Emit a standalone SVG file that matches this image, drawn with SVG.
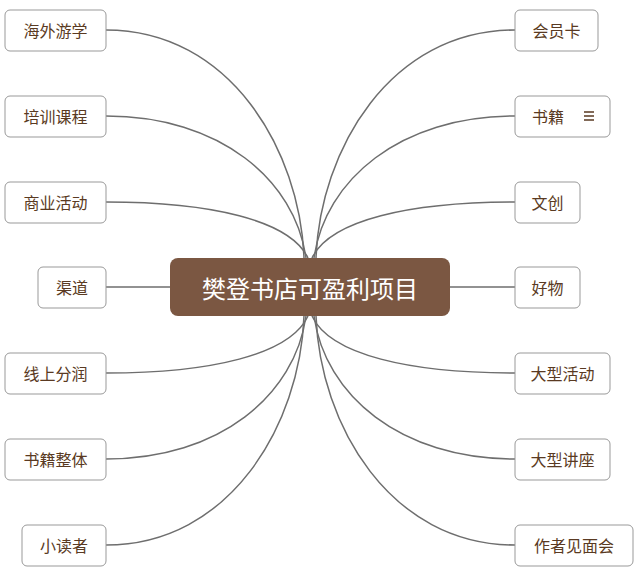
<svg xmlns="http://www.w3.org/2000/svg" width="640" height="575" viewBox="0 0 640 575">
<style>
.n rect{fill:#fff;stroke:#999;stroke-width:1}
.n text{font-family:"Noto Sans CJK SC",sans-serif;font-size:16px;fill:#5a3a22;text-anchor:middle;dominant-baseline:central}
.c path{fill:none;stroke:#6e6e6e;stroke-width:1.5}
</style>
<rect width="640" height="575" fill="#fff"/>
<g class="c">
<path d="M106,30 C230,30 300,150 304,258"/>
<path d="M106,116 C220,116 295,180 306,258"/>
<path d="M106,202 C210,202 290,220 308,258"/>
<path d="M106,287 L170,287"/>
<path d="M106,373 C210,373 290,355 308,316"/>
<path d="M106,459 C220,459 295,395 306,316"/>
<path d="M106,545 C230,545 300,425 304,316"/>
<path d="M515,30 C390,30 320,150 316,258"/>
<path d="M515,116 C400,116 325,180 314,258"/>
<path d="M515,202 C410,202 330,220 312,258"/>
<path d="M450,287 L515,287"/>
<path d="M515,373 C410,373 330,355 312,316"/>
<path d="M515,459 C400,459 325,395 314,316"/>
<path d="M515,545 C390,545 320,425 316,316"/>
</g>
<g id="center"><rect x="170" y="258" width="280" height="58" rx="8" fill="#7b5742"/><text x="310" y="287" font-family="Noto Sans CJK SC,sans-serif" font-size="24" fill="#fff" text-anchor="middle" dominant-baseline="central">樊登书店可盈利项目</text></g>
<g id="l1" class="n"><rect x="5" y="10" width="101" height="41" rx="5"/><text x="55.5" y="30">海外游学</text></g>
<g id="l2" class="n"><rect x="5" y="96" width="101" height="41" rx="5"/><text x="55.5" y="116">培训课程</text></g>
<g id="l3" class="n"><rect x="5" y="182" width="101" height="41" rx="5"/><text x="55.5" y="202">商业活动</text></g>
<g id="l4" class="n"><rect x="38" y="267" width="68" height="41" rx="5"/><text x="72" y="287">渠道</text></g>
<g id="l5" class="n"><rect x="5" y="353" width="101" height="41" rx="5"/><text x="55.5" y="373">线上分润</text></g>
<g id="l6" class="n"><rect x="5" y="439" width="101" height="41" rx="5"/><text x="55.5" y="459">书籍整体</text></g>
<g id="l7" class="n"><rect x="22" y="525" width="84" height="41" rx="5"/><text x="64" y="545">小读者</text></g>
<g id="r1" class="n"><rect x="515" y="10" width="83" height="41" rx="5"/><text x="556.5" y="30">会员卡</text></g>
<g id="r2" class="n"><rect x="515" y="96" width="95" height="41" rx="5"/><text x="548" y="116">书籍</text><path d="M584,112h10M584,116h10M584,120h10" stroke="#5a3a22" stroke-width="1.6"/></g>
<g id="r3" class="n"><rect x="515" y="182" width="65" height="41" rx="5"/><text x="547.5" y="202">文创</text></g>
<g id="r4" class="n"><rect x="515" y="267" width="65" height="41" rx="5"/><text x="547.5" y="287">好物</text></g>
<g id="r5" class="n"><rect x="515" y="353" width="95" height="41" rx="5"/><text x="562.5" y="373">大型活动</text></g>
<g id="r6" class="n"><rect x="515" y="439" width="95" height="41" rx="5"/><text x="562.5" y="459">大型讲座</text></g>
<g id="r7" class="n"><rect x="515" y="525" width="118" height="41" rx="5"/><text x="574" y="545">作者见面会</text></g>
</svg>
